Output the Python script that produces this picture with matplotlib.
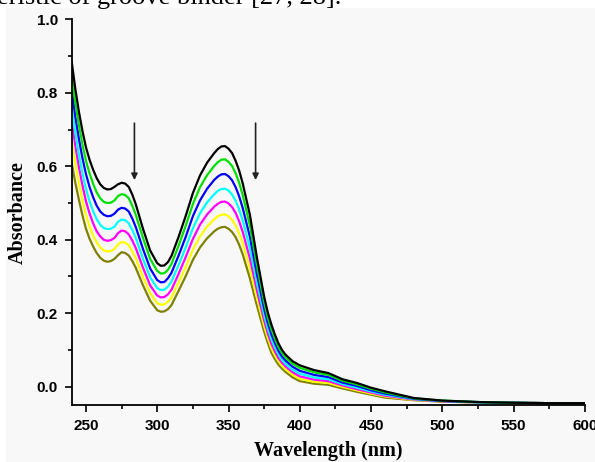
import numpy as np
import matplotlib
matplotlib.use("Agg")
import matplotlib.pyplot as plt
from matplotlib.patches import Rectangle
from matplotlib.ticker import MultipleLocator, FormatStrFormatter

wl = [240, 242.5, 245, 247.5, 250, 252.5, 255, 257.5, 260, 262.5,
      265, 267.5, 270, 272.5, 275, 277.5, 280, 282.5, 285, 290,
      295, 300, 302.5, 305, 307.5, 310, 315, 320, 325, 330,
      335, 340, 342.5, 345, 347.5, 350, 352.5, 355, 357.5, 360,
      365, 370, 375, 377.5, 380, 382.5, 385, 387.5, 390, 395,
      400, 410, 420, 430, 440, 450, 460, 480, 500, 525,
      550, 575, 600]

abs_black = [0.885, 0.812, 0.750, 0.697, 0.652, 0.618, 0.591, 0.568, 0.551, 0.541,
             0.537, 0.538, 0.544, 0.551, 0.555, 0.553, 0.544, 0.523, 0.496, 0.430,
             0.371, 0.336, 0.329, 0.330, 0.339, 0.356, 0.408, 0.465, 0.527, 0.575,
             0.610, 0.636, 0.647, 0.654, 0.655, 0.648, 0.636, 0.615, 0.588, 0.553,
             0.468, 0.350, 0.245, 0.203, 0.170, 0.142, 0.118, 0.100, 0.087, 0.069,
             0.058, 0.045, 0.037, 0.020, 0.010, -0.003, -0.013, -0.031, -0.038, -0.042,
             -0.044, -0.045, -0.045]
abs_green = [0.845, 0.774, 0.713, 0.660, 0.615, 0.581, 0.553, 0.529, 0.513, 0.503,
             0.500, 0.501, 0.507, 0.519, 0.524, 0.522, 0.513, 0.493, 0.467, 0.405,
             0.348, 0.315, 0.308, 0.309, 0.318, 0.334, 0.384, 0.438, 0.497, 0.543,
             0.576, 0.601, 0.611, 0.618, 0.619, 0.612, 0.601, 0.581, 0.555, 0.521,
             0.439, 0.329, 0.229, 0.189, 0.157, 0.131, 0.108, 0.092, 0.079, 0.062,
             0.051, 0.039, 0.032, 0.016, 0.006, -0.006, -0.016, -0.032, -0.038, -0.042,
             -0.044, -0.045, -0.045]
abs_blue = [0.808, 0.736, 0.676, 0.623, 0.579, 0.544, 0.516, 0.493, 0.477, 0.468,
            0.464, 0.465, 0.471, 0.482, 0.487, 0.485, 0.477, 0.458, 0.434, 0.375,
            0.322, 0.290, 0.284, 0.285, 0.295, 0.310, 0.357, 0.408, 0.464, 0.507,
            0.539, 0.563, 0.572, 0.578, 0.579, 0.573, 0.562, 0.543, 0.518, 0.486,
            0.408, 0.305, 0.212, 0.174, 0.143, 0.119, 0.098, 0.082, 0.071, 0.054,
            0.043, 0.032, 0.026, 0.011, 0.002, -0.010, -0.019, -0.033, -0.039, -0.042,
            -0.044, -0.045, -0.045]
abs_cyan = [0.762, 0.692, 0.632, 0.582, 0.539, 0.505, 0.478, 0.456, 0.441, 0.432,
            0.429, 0.430, 0.436, 0.449, 0.455, 0.453, 0.445, 0.427, 0.404, 0.348,
            0.298, 0.268, 0.263, 0.264, 0.272, 0.286, 0.331, 0.379, 0.431, 0.472,
            0.502, 0.524, 0.533, 0.538, 0.539, 0.534, 0.523, 0.506, 0.482, 0.452,
            0.377, 0.282, 0.195, 0.159, 0.130, 0.107, 0.088, 0.073, 0.062, 0.046,
            0.035, 0.025, 0.020, 0.007, -0.003, -0.013, -0.022, -0.034, -0.039, -0.043,
            -0.044, -0.045, -0.045]
abs_magenta = [0.726, 0.657, 0.599, 0.549, 0.505, 0.472, 0.445, 0.423, 0.409, 0.400,
               0.397, 0.399, 0.405, 0.418, 0.425, 0.423, 0.415, 0.398, 0.377, 0.324,
               0.276, 0.248, 0.243, 0.244, 0.251, 0.264, 0.307, 0.353, 0.402, 0.441,
               0.469, 0.490, 0.498, 0.503, 0.504, 0.499, 0.489, 0.473, 0.450, 0.421,
               0.349, 0.261, 0.180, 0.146, 0.117, 0.096, 0.078, 0.065, 0.055, 0.039,
               0.028, 0.019, 0.015, 0.003, -0.007, -0.016, -0.025, -0.035, -0.040, -0.043,
               -0.044, -0.045, -0.045]
abs_yellow = [0.671, 0.608, 0.556, 0.508, 0.468, 0.436, 0.411, 0.393, 0.379, 0.371,
              0.368, 0.369, 0.375, 0.387, 0.394, 0.392, 0.385, 0.369, 0.349, 0.299,
              0.255, 0.227, 0.223, 0.224, 0.231, 0.243, 0.284, 0.326, 0.373, 0.409,
              0.436, 0.456, 0.464, 0.468, 0.469, 0.464, 0.454, 0.439, 0.417, 0.390,
              0.322, 0.240, 0.165, 0.133, 0.105, 0.085, 0.069, 0.057, 0.047, 0.032,
              0.021, 0.013, 0.010, -0.001, -0.010, -0.019, -0.027, -0.036, -0.040, -0.043,
              -0.044, -0.045, -0.045]
abs_olive = [0.609, 0.556, 0.510, 0.467, 0.430, 0.403, 0.382, 0.364, 0.351, 0.343,
             0.340, 0.342, 0.348, 0.358, 0.366, 0.364, 0.357, 0.342, 0.323, 0.276,
             0.234, 0.208, 0.204, 0.205, 0.211, 0.222, 0.261, 0.301, 0.345, 0.379,
             0.404, 0.423, 0.430, 0.434, 0.435, 0.430, 0.421, 0.407, 0.386, 0.360,
             0.295, 0.220, 0.150, 0.120, 0.093, 0.075, 0.060, 0.049, 0.040, 0.025,
             0.015, 0.008, 0.005, -0.005, -0.014, -0.022, -0.030, -0.037, -0.041, -0.043,
             -0.044, -0.045, -0.045]

series = [abs_olive, abs_yellow, abs_magenta, abs_cyan, abs_blue, abs_green, abs_black]
colors = ["#808000", "#ffff00", "#ff00ff", "#00ffff", "#0000ff", "#00e000", "#000000"]

# arrows: x position (nm), start and end absorbance
arrow_x = [284, 369]
arrow_top = 0.725
arrow_tip = 0.555

fig = plt.figure(figsize=(5.95, 4.62), dpi=100)
fig.patch.set_facecolor("white")
fig.patches.append(Rectangle((6 / 595, 0), 1, 1 - 8 / 462, transform=fig.transFigure,
                             facecolor="#f8f8f8", edgecolor="none", zorder=-1))
# caption line of the page above, cut off by the crop
fig.text(341 / 595, 1 - 4 / 462, "characteristic of groove binder [27, 28].",
         ha="right", va="baseline", fontsize=19, family="Liberation Serif")

ax = fig.add_axes([0.1205, 0.1234, 0.8625, 0.8346])
ax.set_facecolor("none")

for s, c in zip(series, colors):
    ax.plot(wl, s, color=c, lw=1.6, solid_joinstyle="round")

for xa in arrow_x:
    ax.annotate("", xy=(xa, arrow_tip), xytext=(xa, arrow_top),
                arrowprops=dict(arrowstyle="-|>", color="#222222", lw=1.2,
                                mutation_scale=9))

ax.set_xlim(240, 600)
ax.set_ylim(-0.05, 1.0)
ax.xaxis.set_major_locator(MultipleLocator(50))
ax.xaxis.set_minor_locator(MultipleLocator(25))
ax.yaxis.set_major_locator(MultipleLocator(0.2))
ax.yaxis.set_minor_locator(MultipleLocator(0.1))
ax.yaxis.set_major_formatter(FormatStrFormatter("%.1f"))

for side in ["top", "right"]:
    ax.spines[side].set_visible(False)
for side in ["left", "bottom"]:
    ax.spines[side].set_linewidth(1.3)

ax.tick_params(which="major", direction="out", length=5, width=1.2, pad=5)
ax.tick_params(which="minor", direction="out", length=3, width=1.2)
for lab in ax.get_xticklabels() + ax.get_yticklabels():
    lab.set_fontfamily("Liberation Sans")
    lab.set_fontweight("bold")
    lab.set_fontsize(11)

ax.set_xlabel("Wavelength (nm)", family="Liberation Serif", fontweight="bold",
              fontsize=14.5, labelpad=6)
ax.set_ylabel("Absorbance", family="Liberation Serif", fontweight="bold",
              fontsize=14.5, labelpad=6)

fig.savefig("out.png", dpi=100, facecolor=fig.get_facecolor())
